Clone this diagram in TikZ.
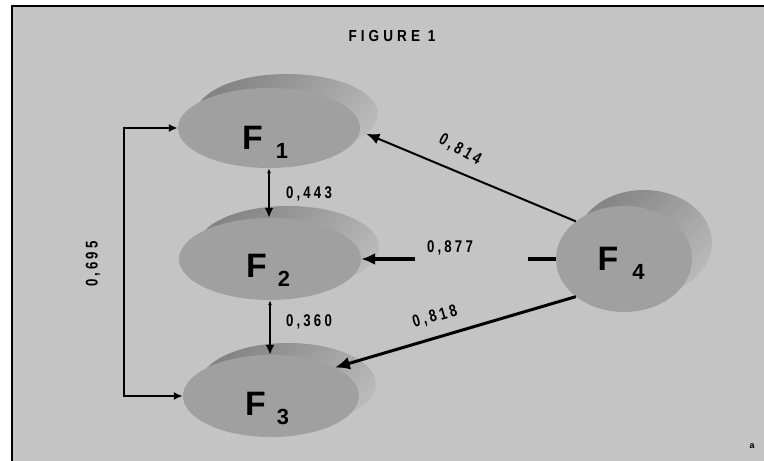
\documentclass[tikz,border=0pt]{standalone}
\usepackage{fontspec}
\setmainfont{Liberation Sans}
\usetikzlibrary{shapes.geometric,arrows.meta,calc}
\definecolor{bgc}{RGB}{196,196,196}
\definecolor{frontc}{RGB}{160,160,160}
\definecolor{backdark}{RGB}{132,132,132}
\definecolor{backlight}{RGB}{186,186,186}
\newcommand\Fsub[1]{\raisebox{-9bp}{\fontsize{22}{22}\selectfont #1}}
\newcommand\nm[1]{\scalebox{0.78}[1]{#1}}
\begin{document}
\begin{tikzpicture}[x=1bp,y=-1bp,
  front/.style={ellipse, fill=frontc, inner sep=0pt},
  back/.style={ellipse, inner sep=0pt, top color=backdark, bottom color=backlight, shading angle=45},
  ftext/.style={font=\bfseries\fontsize{34}{34}\selectfont, inner sep=0pt},
  num/.style={font=\bfseries\fontsize{17}{17}\selectfont\addfontfeature{LetterSpace=24}, inner sep=0pt},
  brk/.style={{Latex[length=9bp,width=8bp]}-{Latex[length=9bp,width=8bp]}, line width=2.5bp},
  varr/.style={{Latex[length=5bp,width=4bp]}-{Latex[length=10bp,width=9bp]}, line width=2bp},
  arrA/.style={-{Latex[length=13bp,width=11bp]}, line width=2bp},
  arrB/.style={-{Latex[length=15bp,width=13bp]}, line width=3bp},
  arrC/.style={-{Latex[length=14bp,width=12bp]}, line width=4bp},
  segC/.style={line width=4bp}
]
\useasboundingbox (0,0) rectangle (764,461);
\fill[white] (0,0) rectangle (764,461);
\fill[bgc] (12,6) rectangle (764,461);
\draw[line width=2bp] (12,461) -- (12,6) -- (764,6);

\node[font=\bfseries\fontsize{16}{16}\selectfont\addfontfeature{LetterSpace=30}, inner sep=0pt] (title) at (392,36) {\scalebox{0.85}[1]{FIGURE 1}};

% back ellipses
\node[back, minimum width=182bp, minimum height=80bp] (F1b) at (287,114) {};
\node[back, minimum width=182bp, minimum height=82bp] (F2b) at (288,247) {};
\node[back, minimum width=176bp, minimum height=82bp] (F3b) at (288,384) {};
\node[back, minimum width=136bp, minimum height=106bp] (F4b) at (644,243) {};
% front ellipses
\node[front, minimum width=182bp, minimum height=80bp] (F1) at (269,128) {};
\node[front, minimum width=182bp, minimum height=82bp] (F2) at (270,259) {};
\node[front, minimum width=176bp, minimum height=82bp] (F3) at (271,396) {};
\node[front, minimum width=136bp, minimum height=106bp] (F4) at (624,259) {};
% texts
\node[ftext] (F1t) at ([shift={(-4,14)}]F1.center) {F\hspace{13bp}\Fsub{1}};
\node[ftext] (F2t) at ([shift={(-2,11)}]F2.center) {F\hspace{11bp}\Fsub{2}};
\node[ftext] (F3t) at ([shift={(-4,12)}]F3.center) {F\hspace{11bp}\Fsub{3}};
\node[ftext] (F4t) at ([shift={(-3,4)}]F4.center) {F\hspace{14bp}\Fsub{4}};

% connectors
\draw[brk] (F1.west) -- ++(-54,0) |- (F3.west);
\draw[varr] (F1.south) -- (F1.south |- F2.north);
\draw[varr] (F2.south) -- (F2.south |- F3.north);
\draw[arrA] (F4.142) -- (F1b.-14);
\draw[arrB] (F4.218) -- (F3.24);
\coordinate (g1) at (528,259);
\coordinate (g2) at (415,259);
\draw[segC] (F4.west) -- (g1);
\draw[arrC] (g2) -- (F2.east);

% labels
\node[num, rotate=90] (l695) at (93,264) {\nm{0,695}};
\node[num] (l443) at (309,194) {\nm{0,443}};
\node[num] (l360) at (309,322) {\nm{0,360}};
\node[num] (l877) at (450,248) {\nm{0,877}};
\node[num, rotate=-30] (l814) at (460,150) {\nm{0,814}};
\node[num, rotate=16] (l818) at (435,317) {\nm{0,818}};
\node[font=\bfseries\fontsize{9}{9}\selectfont, inner sep=0pt] (la) at (752,446) {a};
\end{tikzpicture}
\end{document}
